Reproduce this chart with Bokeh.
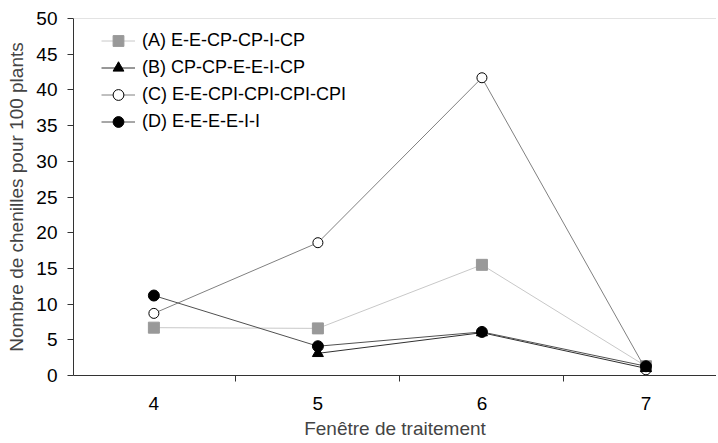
from bokeh.plotting import figure
from bokeh.models import FixedTicker, Range1d, Legend, LegendItem, Span
from bokeh.embed import file_html
from bokeh.resources import INLINE

x_a = [4, 5, 6, 7]
a_vals = [6.7, 6.6, 15.5, 1.3]
x_b = [5, 6, 7]
b_vals = [3.1, 6.0, 1.0]
x_c = [4, 5, 6, 7]
c_vals = [8.7, 18.6, 41.7, 0.8]
x_d = [4, 5, 6, 7]
d_vals = [11.2, 4.1, 6.1, 1.3]
labels = ["(A) E-E-CP-CP-I-CP", "(B) CP-CP-E-E-I-CP",
          "(C) E-E-CPI-CPI-CPI-CPI", "(D) E-E-E-E-I-I"]
x_ticks = [4, 5, 6, 7]
x_minor = [4.5, 5.5, 6.5]
y_ticks = [0, 5, 10, 15, 20, 25, 30, 35, 40, 45, 50]

FONT = "Liberation Sans"

p = figure(width=716, height=441, output_backend="svg", toolbar_location=None,
           x_range=Range1d(3.51, 7.43), y_range=Range1d(0, 50),
           min_border_left=73, min_border_right=0, min_border_top=18, min_border_bottom=10)
p.grid.visible = False
p.outline_line_color = None
p.background_fill_color = "white"

p.add_layout(Span(location=50, dimension="width", line_color="#c8c8c8", line_width=1))

ra_l = p.line(x_a, a_vals, line_color="#c8c8c8", line_width=1)
ra_m = p.scatter(x_a, a_vals, marker="square", size=11, fill_color="#999999", line_color="#999999")
rc_l = p.line(x_c, c_vals, line_color="#808080", line_width=1)
rc_m = p.scatter(x_c, c_vals, marker="circle", size=10, fill_color="white", line_color="black", line_width=1)
rb_l = p.line(x_b, b_vals, line_color="#303030", line_width=1)
rb_m = p.scatter(x_b, b_vals, marker="triangle", size=11, fill_color="black", line_color="black")
rd_l = p.line(x_d, d_vals, line_color="#505050", line_width=1)
rd_m = p.scatter(x_d, d_vals, marker="circle", size=11, fill_color="black", line_color="black")

legend = Legend(items=[
    LegendItem(label=labels[0], renderers=[ra_l, ra_m]),
    LegendItem(label=labels[1], renderers=[rb_l, rb_m]),
    LegendItem(label=labels[2], renderers=[rc_l, rc_m]),
    LegendItem(label=labels[3], renderers=[rd_l, rd_m]),
], location=(28, 240), padding=0, spacing=0, label_height=27, glyph_height=27,
   glyph_width=34, label_standoff=7, border_line_color=None,
   background_fill_alpha=0, label_text_font=FONT, label_text_font_size="18px",
   label_text_color="black")
p.add_layout(legend)

xa = p.xaxis[0]
xa.ticker = FixedTicker(ticks=x_ticks, minor_ticks=x_minor)
xa.major_tick_out = 0
xa.major_tick_in = 0
xa.minor_tick_out = 6
xa.minor_tick_in = 0
xa.minor_tick_line_color = "#333333"
xa.axis_line_color = "#333333"
xa.major_label_standoff = 15
xa.major_label_text_font = FONT
xa.major_label_text_font_size = "19px"
xa.major_label_text_color = "black"
xa.axis_label = "Fenêtre de traitement"
xa.axis_label_text_font = FONT
xa.axis_label_text_font_size = "19px"
xa.axis_label_text_font_style = "normal"
xa.axis_label_standoff = 5

ya = p.yaxis[0]
ya.ticker = FixedTicker(ticks=y_ticks, minor_ticks=[])
ya.major_tick_out = 6
ya.major_tick_in = 0
ya.major_tick_line_color = "#333333"
ya.axis_line_color = "#333333"
ya.major_label_standoff = 10
ya.major_label_text_font = FONT
ya.major_label_text_font_size = "19px"
ya.major_label_text_color = "black"
ya.axis_label = "Nombre de chenilles pour 100 plants"
ya.axis_label_text_font = FONT
ya.axis_label_text_font_size = "19px"
ya.axis_label_text_font_style = "normal"
ya.axis_label_standoff = 6

open("out.html", "w").write(file_html(p, INLINE))
